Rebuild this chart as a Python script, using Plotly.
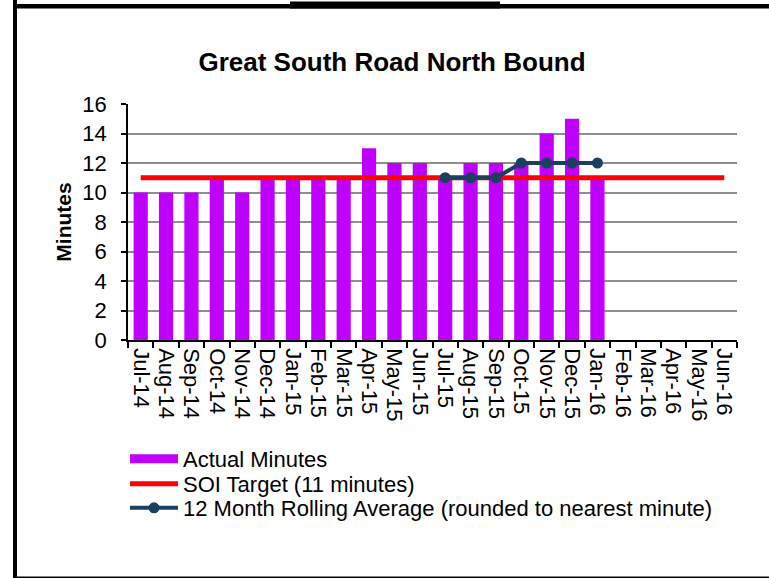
import plotly.graph_objects as go

# Monthly categories for the 2014/15 - 2015/16 period
months = ["Jul-14", "Aug-14", "Sep-14", "Oct-14", "Nov-14", "Dec-14",
          "Jan-15", "Feb-15", "Mar-15", "Apr-15", "May-15", "Jun-15",
          "Jul-15", "Aug-15", "Sep-15", "Oct-15", "Nov-15", "Dec-15",
          "Jan-16", "Feb-16", "Mar-16", "Apr-16", "May-16", "Jun-16"]

# Actual travel time (minutes), reported up to Jan-16
actual_months = months[:19]
actual_minutes = [10, 10, 10, 11, 10, 11, 11, 11, 11, 13, 12, 12,
                  11, 12, 12, 12, 14, 15, 11]

# SOI target across the whole period
soi_target = [11] * len(months)

# 12 month rolling average, from Jul-15
rolling_months = ["Jul-15", "Aug-15", "Sep-15", "Oct-15", "Nov-15", "Dec-15", "Jan-16"]
rolling_avg = [11, 11, 11, 12, 12, 12, 12]

W, H = 769, 578
L, R, T, B = 128, 32, 104, 238
PW, PH = W - L - R, H - T - B

FONT = "Arial, 'Liberation Sans', sans-serif"
PURPLE = "#C000FF"
NAVY = "#1B3F5E"


def px_x(x):
    return (x - L) / PW


def px_y(y):
    return (H - B - y) / PH


fig = go.Figure()

fig.add_trace(go.Bar(
    x=actual_months, y=actual_minutes, name="Actual Minutes",
    marker=dict(color=PURPLE, line=dict(width=0)),
    showlegend=False,
))
# legend entry for the bars, drawn as a flat thick swatch
fig.add_trace(go.Scatter(
    x=[None], y=[None], mode="lines", name="Actual Minutes",
    line=dict(color=PURPLE, width=9), legend="legend",
))
fig.add_trace(go.Scatter(
    x=months, y=soi_target, mode="lines", name="SOI Target (11 minutes)",
    line=dict(color="#FF0000", width=5), legend="legend2",
))
fig.add_trace(go.Scatter(
    x=rolling_months, y=rolling_avg, mode="lines+markers",
    name="12 Month Rolling Average (rounded to nearest minute)",
    line=dict(color=NAVY, width=4),
    marker=dict(color=NAVY, size=11), legend="legend3",
))

# page frame
shapes = [
    dict(type="rect", xref="paper", yref="paper",
         x0=px_x(13), x1=px_x(17), y0=px_y(578), y1=px_y(0),
         fillcolor="black", line=dict(width=0), layer="above"),
    dict(type="rect", xref="paper", yref="paper",
         x0=px_x(13), x1=px_x(769), y0=px_y(8.5), y1=px_y(4),
         fillcolor="black", line=dict(width=0), layer="above"),
    dict(type="rect", xref="paper", yref="paper",
         x0=px_x(290), x1=px_x(500), y0=px_y(8.5), y1=px_y(1.5),
         fillcolor="black", line=dict(width=0), layer="above"),
    dict(type="rect", xref="paper", yref="paper",
         x0=px_x(13), x1=px_x(769), y0=px_y(578), y1=px_y(576.5),
         fillcolor="black", line=dict(width=0), layer="above"),
]


def legend_at(cy):
    return dict(
        x=px_x(125), xanchor="left", y=px_y(cy), yanchor="middle",
        font=dict(family=FONT, size=22, color="black"),
        bgcolor="rgba(0,0,0,0)", borderwidth=0, itemwidth=48,
    )


fig.update_layout(
    width=W, height=H,
    margin=dict(l=L, r=R, t=T, b=B, pad=0),
    paper_bgcolor="white", plot_bgcolor="white",
    font=dict(family=FONT, color="black", size=22),
    bargap=0.44,
    title=dict(
        text="<b>Great South Road North Bound</b>",
        font=dict(family=FONT, size=26, color="black"),
        x=392 / W, xanchor="center", xref="container",
        y=1 - 62 / H, yanchor="middle", yref="container",
    ),
    xaxis=dict(
        type="category", categoryorder="array", categoryarray=months,
        range=[-0.5, len(months) - 0.5],
        tickmode="linear", tick0=0, dtick=1,
        tickangle=90, tickson="boundaries",
        ticks="outside", ticklen=6, tickcolor="black", tickwidth=1.5,
        showline=True, linecolor="black", linewidth=1.5,
        showgrid=False, zeroline=False,
        tickfont=dict(family=FONT, size=22, color="black"),
        ticklabelstandoff=2,
    ),
    yaxis=dict(
        range=[0, 16], dtick=2,
        ticks="outside", ticklen=5, tickcolor="black", tickwidth=1.5,
        showline=True, linecolor="black", linewidth=1.5,
        showgrid=True, gridcolor="#8E8E8E", gridwidth=1.5,
        zeroline=False,
        tickfont=dict(family=FONT, size=22, color="black"),
        ticklabelstandoff=10,
        title=dict(text="<b>Minutes</b>", standoff=5,
                   font=dict(family=FONT, size=21, color="black")),
    ),
    legend=legend_at(459),
    legend2=legend_at(484),
    legend3=legend_at(508),
    shapes=shapes,
)

fig.write_html("out.html")
